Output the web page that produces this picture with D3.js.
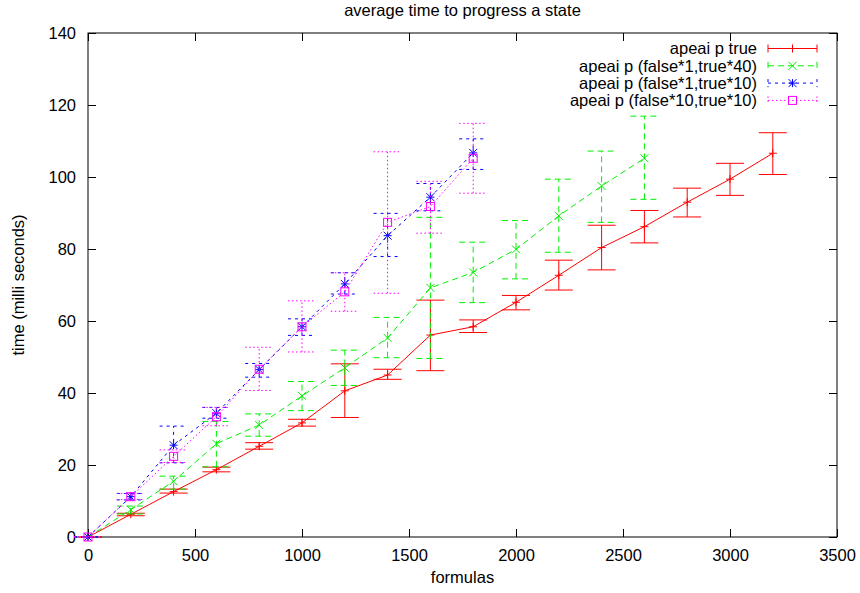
<!DOCTYPE html>
<html>
<head>
<meta charset="utf-8">
<script src="https://cdn.jsdelivr.net/npm/d3@7"></script>
<style>
  body { margin: 0; background: #fff; }
  svg text { font-family: "Liberation Sans", Arial, sans-serif; }
</style>
</head>
<body>
<div id="chart"></div>
<script>
// formulas (x) for each run
const xTrue = [0, 200, 400, 600, 800, 1000, 1200, 1400, 1600, 1800, 2000, 2200, 2400, 2600, 2800, 3000, 3200];
const xF1T40 = [0, 200, 400, 600, 800, 1000, 1200, 1400, 1600, 1800, 2000, 2200, 2400, 2600];
const xF1T10 = [0, 200, 400, 600, 800, 1000, 1200, 1400, 1600, 1800];
const xF10T10 = [0, 200, 400, 600, 800, 1000, 1200, 1400, 1600, 1800];

// apeai p true
const yTrue  = [0, 6.3, 12.6, 18.7, 25.2, 31.7, 40.6, 45.0, 56.1, 58.4, 65.2, 72.7, 80.4, 86.2, 93.0, 99.4, 106.6];
const loTrue = [0, 5.9, 12.2, 18.1, 24.4, 30.8, 33.2, 43.8, 46.2, 56.8, 63.1, 68.6, 74.2, 81.7, 88.9, 94.9, 100.7];
const hiTrue = [0, 6.6, 13.3, 19.4, 26.2, 32.7, 48.1, 46.6, 65.8, 60.3, 67.1, 76.9, 86.6, 90.7, 96.9, 103.8, 112.3];

// apeai p (false*1,true*40)
const yF1T40  = [0, 7.6, 15.5, 25.9, 31.1, 39.2, 47.0, 55.3, 69.2, 73.5, 79.9, 89.2, 97.5, 105.2];
const loF1T40 = [0, 6.4, 13.3, 19.5, 28.0, 35.1, 42.1, 49.8, 49.6, 65.1, 71.7, 79.1, 87.4, 93.8];
const hiF1T40 = [0, 8.6, 16.9, 32.1, 34.2, 43.2, 51.9, 61.0, 88.8, 81.9, 87.9, 99.4, 107.2, 116.9];

// apeai p (false*1,true*10)
const yF1T10  = [0, 11.2, 25.5, 34.4, 46.5, 58.4, 70.3, 83.7, 94.4, 106.7];
const loF1T10 = [0, 10.3, 20.6, 33.0, 44.4, 56.0, 67.5, 77.9, 90.6, 102.1];
const hiF1T10 = [0, 12.1, 30.8, 36.0, 48.2, 60.6, 73.4, 89.9, 98.2, 110.6];

// apeai p (false*10,true*10)
const yF10T10  = [0, 11.2, 22.4, 33.4, 46.6, 58.4, 68.1, 87.4, 91.8, 105.2];
const loF10T10 = [0, 10.4, 20.7, 30.9, 40.7, 51.4, 62.7, 67.7, 84.4, 95.5];
const hiF10T10 = [0, 12.1, 24.2, 36.0, 52.7, 65.6, 73.4, 107.0, 98.8, 114.9];

const xTicks = [0, 500, 1000, 1500, 2000, 2500, 3000, 3500];
const yTicks = [0, 20, 40, 60, 80, 100, 120, 140];

const seriesNames = ["apeai p true", "apeai p (false*1,true*40)", "apeai p (false*1,true*10)", "apeai p (false*10,true*10)"];

const width = 860, height = 593;
const margin = {left: 88, right: 23, top: 33, bottom: 56};
const fontSize = "16.5px";

const svg = d3.select("#chart").append("svg")
    .attr("width", width)
    .attr("height", height);

const x = d3.scaleLinear().domain([0, 3500]).range([margin.left, width - margin.right]);
const y = d3.scaleLinear().domain([0, 140]).range([height - margin.bottom, margin.top]);

// build the series list from the arrays above
function zipSeries(xs, ys, lo, hi){
    return xs.map((v, i) => ({x: v, y: ys[i], lo: lo[i], hi: hi[i]}));
}
const series = [
    {name: seriesNames[0], color: "#ff0000", dash: null, marker: "plus", data: zipSeries(xTrue, yTrue, loTrue, hiTrue)},
    {name: seriesNames[1], color: "#00f000", dash: "6,4", marker: "cross", data: zipSeries(xF1T40, yF1T40, loF1T40, hiF1T40)},
    {name: seriesNames[2], color: "#0000ff", dash: "3,4", marker: "star", data: zipSeries(xF1T10, yF1T10, loF1T10, hiF1T10)},
    {name: seriesNames[3], color: "#ff00ff", dash: "1.5,2.5", marker: "square", data: zipSeries(xF10T10, yF10T10, loF10T10, hiF10T10)}
];

// axes: ticks pointing inward, mirrored on top/right
svg.append("g")
    .attr("transform", "translate(0," + y(0) + ")")
    .call(d3.axisBottom(x).tickValues(xTicks).tickSize(-8).tickPadding(12).tickFormat(d3.format("d")))
    .call(g => g.select(".domain").remove())
    .selectAll("text").style("font-size", fontSize).attr("fill", "#000");

svg.append("g")
    .attr("transform", "translate(" + x(0) + ",0)")
    .call(d3.axisLeft(y).tickValues(yTicks).tickSize(-8).tickPadding(12))
    .call(g => g.select(".domain").remove())
    .selectAll("text").style("font-size", fontSize).attr("fill", "#000");

svg.append("g")
    .attr("transform", "translate(0," + y(140) + ")")
    .call(d3.axisTop(x).tickValues(xTicks).tickSize(-8).tickFormat(""))
    .call(g => g.select(".domain").remove());

svg.append("g")
    .attr("transform", "translate(" + x(3500) + ",0)")
    .call(d3.axisRight(y).tickValues(yTicks).tickSize(-8).tickFormat(""))
    .call(g => g.select(".domain").remove());

svg.append("rect")
    .attr("x", x(0))
    .attr("y", y(140))
    .attr("width", x(3500) - x(0))
    .attr("height", y(0) - y(140))
    .attr("fill", "none")
    .attr("stroke", "#000")
    .attr("stroke-width", 1);

// titles
svg.append("text")
    .text("average time to progress a state")
    .attr("x", (x(0) + x(3500)) / 2)
    .attr("y", 16)
    .attr("text-anchor", "middle")
    .style("font-size", fontSize);

svg.append("text")
    .text("formulas")
    .attr("x", (x(0) + x(3500)) / 2)
    .attr("y", 583)
    .attr("text-anchor", "middle")
    .style("font-size", fontSize);

svg.append("text")
    .text("time (milli seconds)")
    .attr("transform", "translate(24," + ((y(0) + y(140)) / 2) + ") rotate(-90)")
    .attr("text-anchor", "middle")
    .style("font-size", fontSize);

function drawMarker(g, type, cx, cy, color){
    let s = 4;
    if(type === "plus" || type === "star"){
        g.append("path").attr("d", "M" + (cx - s) + "," + cy + "H" + (cx + s) + "M" + cx + "," + (cy - s) + "V" + (cy + s))
            .attr("stroke", color).attr("fill", "none");
    }
    if(type === "cross" || type === "star"){
        g.append("path").attr("d", "M" + (cx - s) + "," + (cy - s) + "L" + (cx + s) + "," + (cy + s) + "M" + (cx - s) + "," + (cy + s) + "L" + (cx + s) + "," + (cy - s))
            .attr("stroke", color).attr("fill", "none");
    }
    if(type === "square"){
        g.append("rect").attr("x", cx - s).attr("y", cy - s).attr("width", 2 * s).attr("height", 2 * s)
            .attr("stroke", color).attr("fill", "none");
    }
}

const capHalf = 14;
const line = d3.line().x(d => x(d.x)).y(d => y(d.y));

series.forEach(s => {
    let g = svg.append("g");
    //Error bars first
    s.data.forEach(d => {
        g.append("path")
            .attr("d", "M" + x(d.x) + "," + y(d.lo) + "V" + y(d.hi)
                + "M" + (x(d.x) - capHalf) + "," + y(d.lo) + "H" + (x(d.x) + capHalf)
                + "M" + (x(d.x) - capHalf) + "," + y(d.hi) + "H" + (x(d.x) + capHalf))
            .attr("stroke", s.color)
            .attr("stroke-dasharray", s.dash)
            .attr("fill", "none");
    });
    g.append("path")
        .datum(s.data)
        .attr("d", line)
        .attr("stroke", s.color)
        .attr("stroke-dasharray", s.dash)
        .attr("fill", "none");
    s.data.forEach(d => drawMarker(g, s.marker, x(d.x), y(d.y), s.color));
});

// legend
series.forEach((s, i) => {
    let ly = 48.5 + i * 17.3;
    svg.append("text")
        .text(s.name)
        .attr("x", 757)
        .attr("y", ly)
        .attr("dy", "0.35em")
        .attr("text-anchor", "end")
        .style("font-size", fontSize);
    let g = svg.append("g");
    g.append("path")
        .attr("d", "M768," + ly + "H817M768," + (ly - 4) + "V" + (ly + 4) + "M817," + (ly - 4) + "V" + (ly + 4))
        .attr("stroke", s.color)
        .attr("stroke-dasharray", s.dash)
        .attr("fill", "none");
    drawMarker(g, s.marker, 792.5, ly, s.color);
});
</script>
</body>
</html>
